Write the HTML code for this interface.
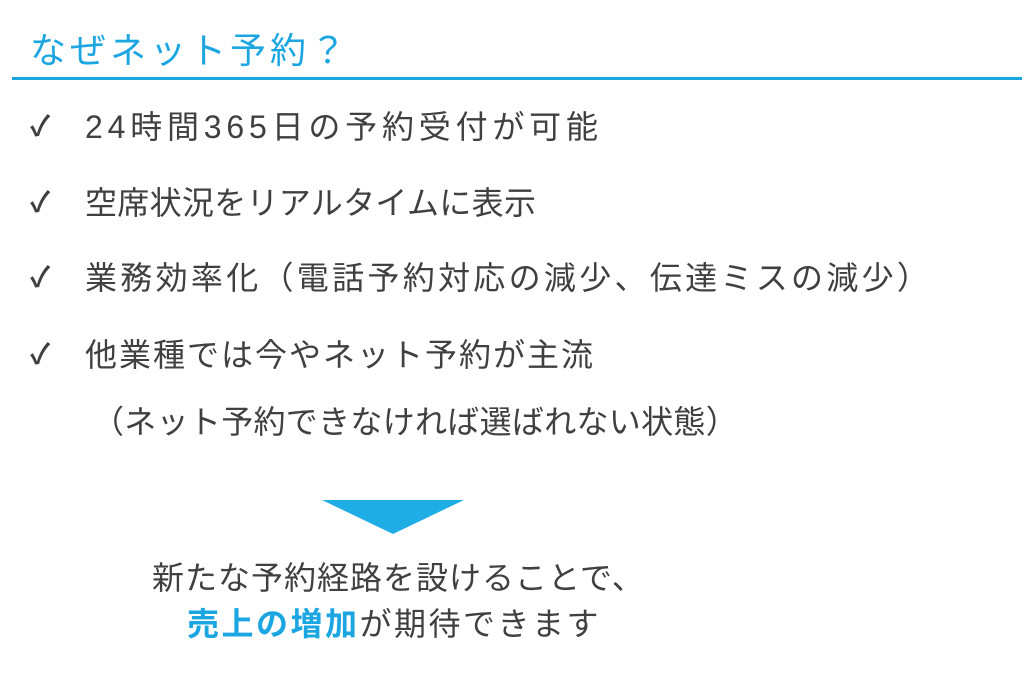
<!DOCTYPE html>
<html><head><meta charset="utf-8"><style>
body{margin:0;width:1024px;height:679px;background:#fff;position:relative;overflow:hidden;font-family:"Liberation Sans","Noto Sans CJK JP",sans-serif;color:#404040}
.t{position:absolute;white-space:nowrap}
.title{left:30px;top:22px;font-size:36px;letter-spacing:4px;color:#1ba6e2}
.line{position:absolute;left:12px;top:77px;width:1010px;height:3px;background:#1ba6e2}
.b{font-size:32px;line-height:40px;letter-spacing:3px}
.ck{left:30px;font-size:28px;font-weight:bold}
</style></head><body>
<div class="t title">なぜネット予約？</div>
<div class="line"></div>
<div class="t b ck" style="top:107px">✓</div>
<div class="t b" style="left:85px;top:107px;letter-spacing:4.8px">24時間365日の予約受付が可能</div>
<div class="t b ck" style="top:183px">✓</div>
<div class="t b" style="left:85px;top:183px;letter-spacing:0.3px">空席状況をリアルタイムに表示</div>
<div class="t b ck" style="top:258px">✓</div>
<div class="t b" style="left:85px;top:258px;letter-spacing:3.3px">業務効率化（電話予約対応の減少、伝達ミスの減少）</div>
<div class="t b ck" style="top:335px">✓</div>
<div class="t b" style="left:85px;top:335px;letter-spacing:2px">他業種では今やネット予約が主流</div>
<div class="t b" style="left:92px;top:402px;letter-spacing:0.3px">（ネット予約できなければ選ばれない状態）</div>
<svg style="position:absolute;left:0;top:0" width="1024" height="679"><polygon points="322,500 464,500 393,534" fill="#1fade6"/></svg>
<div class="t b" style="left:152px;top:558px;letter-spacing:1px">新たな予約経路を設けることで、</div>
<div class="t b" style="left:187px;top:604px;letter-spacing:2.5px"><b style="color:#1ba6e2">売上の増加</b>が期待できます</div>
</body></html>
